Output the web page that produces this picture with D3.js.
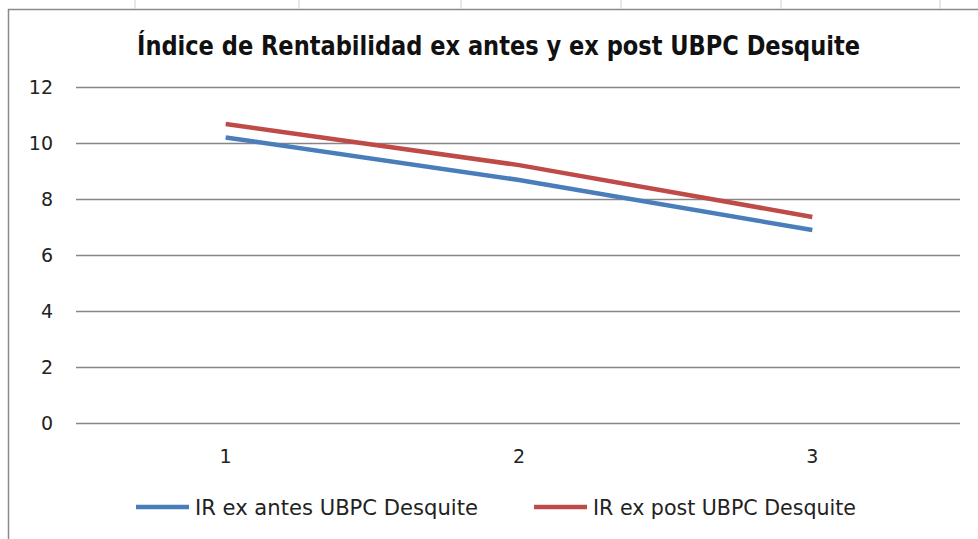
<!DOCTYPE html>
<html>
<head>
<meta charset="utf-8">
<script src="https://cdn.jsdelivr.net/npm/d3@7"></script>
<style>
  body { margin: 0; background: #fff; }
  svg { display: block; }
</style>
</head>
<body>
<svg id="chart" width="978" height="539"></svg>
<script>
// data
var categories = ["1", "2", "3"];
var irAntes = [10.2, 8.68, 6.89];
var irPost = [10.68, 9.21, 7.36];
var yTicks = [0, 2, 4, 6, 8, 10, 12];
var seriesNames = ["IR ex antes UBPC Desquite", "IR ex post UBPC Desquite"];
var seriesColors = ["#4a7ebb", "#be4b48"];
var titleText = "Índice de Rentabilidad ex antes y ex post UBPC Desquite";

var svg = d3.select("#chart");
var narrow = "'Liberation Sans Narrow', 'DejaVu Sans Condensed', 'Arial Narrow', sans-serif";

// sheet frame (chart area border)
svg.append("line").attr("x1", 8).attr("x2", 978).attr("y1", 9.5).attr("y2", 9.5)
    .attr("stroke", "#8a8a8a").attr("stroke-width", 1.5);
svg.append("line").attr("x1", 8.5).attr("x2", 8.5).attr("y1", 9).attr("y2", 539)
    .attr("stroke", "#8a8a8a").attr("stroke-width", 1.5);
// spreadsheet column separators peeking above
[135, 299, 461, 621, 781, 940].forEach(function(cx) {
  svg.append("line").attr("x1", cx).attr("x2", cx).attr("y1", 0).attr("y2", 9)
      .attr("stroke", "#d0d0d0").attr("stroke-width", 1);
});

// scales
var x = d3.scaleBand().domain(categories).range([79, 959]);
var y = d3.scaleLinear().domain([0, 12]).range([423, 87]);

// y axis with gridlines
var yAxis = svg.append("g")
    .attr("transform", "translate(76,0)")
    .call(d3.axisLeft(y).tickValues(yTicks).tickSize(-884).tickPadding(23));
yAxis.select(".domain").remove();
yAxis.selectAll(".tick line").attr("stroke", "#868686").attr("stroke-width", 1.5);
yAxis.selectAll(".tick text")
    .attr("font-family", "'DejaVu Sans', Verdana, sans-serif")
    .attr("font-size", 19).attr("fill", "#222");

// x axis labels
var xAxis = svg.append("g")
    .attr("transform", "translate(0,423)")
    .call(d3.axisBottom(x).tickSize(0).tickPadding(27));
xAxis.select(".domain").remove();
xAxis.selectAll(".tick text")
    .attr("font-family", "'DejaVu Sans', Verdana, sans-serif")
    .attr("font-size", 19).attr("fill", "#222");

// lines
var line = d3.line()
    .x(function(d, i) { return x(categories[i]) + x.bandwidth() / 2; })
    .y(function(d) { return y(d); });

[irAntes, irPost].forEach(function(s, i) {
  svg.append("path")
      .datum(s)
      .attr("d", line)
      .attr("fill", "none")
      .attr("stroke", seriesColors[i])
      .attr("stroke-width", 4.5);
});

// title
svg.append("text")
    .attr("x", 137).attr("y", 55)
    .attr("textLength", 723).attr("lengthAdjust", "spacingAndGlyphs")
    .attr("font-family", narrow)
    .attr("font-weight", "bold")
    .attr("font-size", 27)
    .attr("fill", "#111")
    .text(titleText);

// legend
var legendX = [136, 534];
var legendTextW = [283, 263];
seriesNames.forEach(function(name, i) {
  var g = svg.append("g").attr("transform", "translate(" + legendX[i] + ",507)");
  g.append("line").attr("x1", 0).attr("x2", 53).attr("y1", 0).attr("y2", 0)
      .attr("stroke", seriesColors[i]).attr("stroke-width", 4.5);
  g.append("text")
      .attr("x", 59).attr("y", 8)
      .attr("textLength", legendTextW[i]).attr("lengthAdjust", "spacingAndGlyphs")
      .attr("font-family", narrow)
      .attr("font-size", 22)
      .attr("fill", "#222")
      .text(name);
});
</script>
</body>
</html>
